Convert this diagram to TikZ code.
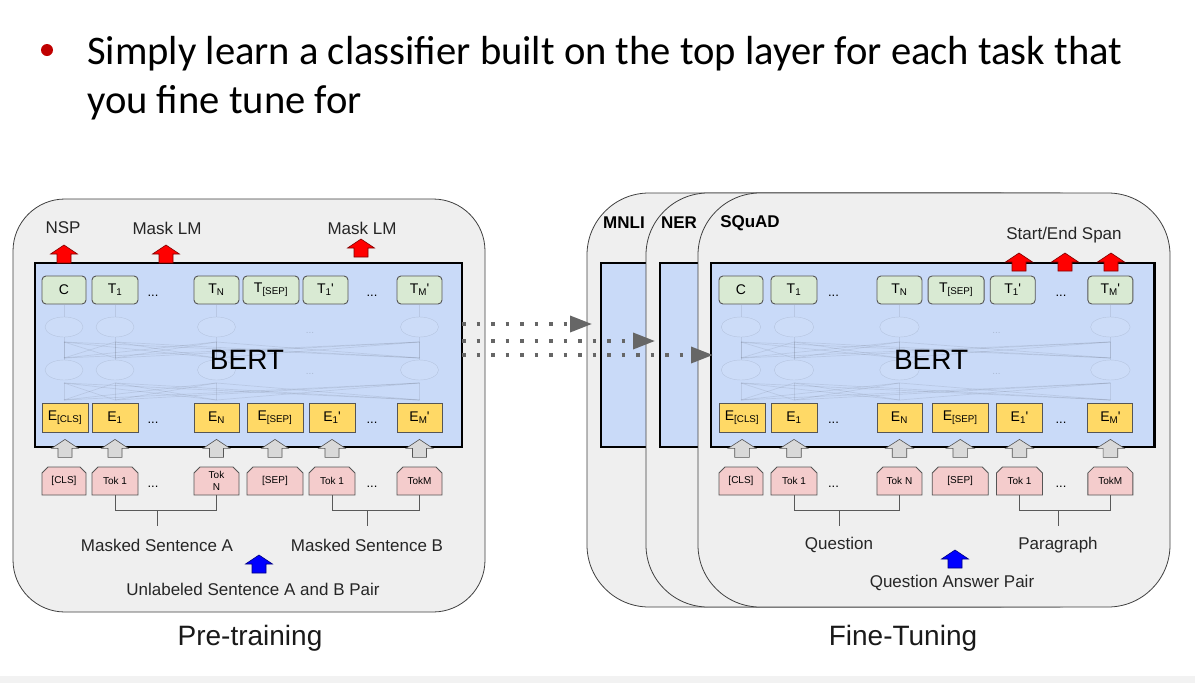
\documentclass[tikz,border=0pt]{standalone}
\usepackage{fontspec}
\setmainfont{Liberation Sans}
\newfontfamily\slidefont{Carlito}
\usetikzlibrary{shapes.misc,arrows.meta}

\definecolor{panelgray}{HTML}{EFEFEF}
\definecolor{bertblue}{HTML}{C9DAF8}
\definecolor{tgreen}{HTML}{D9EAD3}
\definecolor{eyellow}{HTML}{FFD966}
\definecolor{tokpink}{HTML}{F4CCCC}
\definecolor{arrowgray}{HTML}{D9D9D9}
\definecolor{edgegray}{HTML}{555555}
\definecolor{dotgray}{HTML}{666666}
\definecolor{bulletred}{HTML}{C00000}

\tikzset{
  panel/.style={draw=black!75, fill=panelgray, line width=0.8pt},
  bertbox/.style={draw=black, fill=bertblue, line width=2.5pt},
  tbox/.style={draw=edgegray, fill=tgreen, rounded corners=4pt, line width=0.9pt, minimum height=28pt, inner sep=0pt, font=\fontsize{14}{14}\selectfont},
  ebox/.style={draw=edgegray, fill=eyellow, line width=0.8pt, minimum height=29pt, inner sep=0pt, font=\fontsize{14}{14}\selectfont},
  tokbox/.style={chamfered rectangle, chamfered rectangle corners={north west,north east}, chamfered rectangle xsep=3pt, chamfered rectangle ysep=3pt, draw=edgegray, fill=tokpink, line width=0.8pt, minimum height=28pt, inner sep=0pt, align=center, font=\fontsize{10}{12}\selectfont},
  netline/.style={draw=black, draw opacity=0.08, line width=0.7pt},
  netcell/.style={draw=black, draw opacity=0.1, fill=white, fill opacity=0.06},
  netdots/.style={font=\fontsize{10}{10}\selectfont, text=black, text opacity=0.15},
  bertlbl/.style={font=\fontsize{28}{28}\selectfont},
  boxdots/.style={font=\fontsize{13}{13}\selectfont, inner sep=0pt},
  grayarr/.style={draw=edgegray, fill=arrowgray, line width=0.6pt},
  redarr/.style={draw=red!50!black, fill=red, line width=0.6pt},
  bluearr/.style={draw=blue!50!black, fill=blue, line width=0.6pt},
  bracket/.style={draw=black!65, line width=0.9pt},
  lbl/.style={font=\fontsize{17}{17}\selectfont, text=black!85},
  task/.style={font=\bfseries\fontsize{17}{17}\selectfont},
  caption/.style={font=\fontsize{28}{28}\selectfont, text=black!90},
  title/.style={font=\slidefont\fontsize{40.6}{49}\selectfont, inner sep=0pt},
  dotarrow/.style={draw=dotgray, line width=3.5pt, dash pattern=on 3.5pt off 11pt, -{Triangle[length=22pt,width=16pt]}}
}

\newcommand{\tprime}[2]{#1\textsubscript{#2}\kern-0.5pt\textquotesingle}
\newcommand{\blkup}[2]{\draw[#1] #2 ++(-7,0) -- ++(0,-9) -- ++(-6.5,0) -- ++(13.5,-9) -- ++(13.5,9) -- ++(-6.5,0) -- ++(0,9) -- cycle;}
\newcommand{\bertpart}[2]{%
  \path (35,263) coordinate (#1-nw) (462,447) coordinate (#1-se);
  \draw[bertbox] (#1-nw) rectangle (#1-se);
  \foreach \px in {64,115,216.5,419.5} {
    \foreach \qx in {64,115,216.5,419.5}
      \draw[netline] (\px,342) -- (\qx,358) (\px,400) -- (\qx,383);
    \draw[netline] (\px,317) -- (\px,305) (\px,360) -- (\px,337);
    \draw[netcell] (\px,327) ellipse (19pt and 10pt) (\px,370) ellipse (19pt and 10pt);
  }
  \node[netdots] (#1-nd1) at (310,333) {...};
  \node[netdots] (#1-nd2) at (310,374) {...};
  \node[bertlbl] (#1-bert) at (247,360) {BERT};
  \foreach \nm/\px/\bw/\lab in {c/64/44/C, t1/115/46/T\textsubscript{1}, tn/216.5/45/T\textsubscript{N}, tsep/271/56/T\textsubscript{[SEP]}, t1b/325.5/45/\tprime{T}{1}, tm/419.5/45/\tprime{T}{M}}
    \node[tbox, minimum width=\bw] (#1-\nm) at (\px,290) {\lab};
  \foreach \nm/\px/\bw/\lab in {ecls/65/46/E\textsubscript{[CLS]}, e1/115/46/E\textsubscript{1}, en/216.5/45/E\textsubscript{N}, esep/275/56/E\textsubscript{[SEP]}, e1b/332/46/\tprime{E}{1}, em/419.5/45/\tprime{E}{M}}
    \node[ebox, minimum width=\bw] (#1-\nm) at (\px,417.5) {\lab};
  \foreach \nm/\px/\bw/\lab in {tcls/64/44/[CLS], tok1/115/46/Tok 1, tokn/216.5/45/#2, tksep/275/56/[SEP], tok1b/332/46/Tok 1, tokm/419.5/45/TokM}
    \node[tokbox, minimum width=\bw] (#1-\nm) at (\px,481) {\lab};
  \foreach \nm/\py in {t/296, e/423, k/487} {
    \node[boxdots] (#1-\nm d1) at (153,\py) {...};
    \node[boxdots] (#1-\nm d2) at (372,\py) {...};
  }
  \foreach \nm in {ecls,e1,en,esep,e1b,em} {\blkup{grayarr}{(#1-\nm.south) ++(0,25)}}
}

\begin{document}
\begin{tikzpicture}[x=1pt,y=-1pt]
\useasboundingbox (0,0) rectangle (1195,683);
\fill[white] (0,0) rectangle (1195,683);
\fill[black!5] (0,676) rectangle (1195,683);

\fill[bulletred] (47,50) circle (6pt);
\node[title, anchor=base west] (title1) at (87,64) {Simply learn a classifier built on the top layer for each task that};
\node[title, anchor=base west] (title2) at (87,113) {you fine tune for};

% pre-training
\draw[panel, rounded corners=52pt] (13,199) rectangle (485,612);
\bertpart{l}{Tok\\N}
\node[lbl] (nsp) at (63,228) {NSP};
\node[lbl] (mlm1) at (167,228) {Mask LM};
\node[lbl] (mlm2) at (362,228) {Mask LM};
\blkup{redarr}{(nsp.center) ++(1,35)}
\blkup{redarr}{(mlm1.center) ++(-1,35)}
\blkup{redarr}{(mlm2.center) ++(-1,29)}
\draw[bracket] (l-tok1.south) -- ++(0,15) -| (l-tokn.south);
\draw[bracket] (l-tok1b.south) -- ++(0,15) -| (l-tokm.south);
\node[lbl] (sena) at (157,545) {Masked Sentence A};
\node[lbl] (senb) at (367,545) {Masked Sentence B};
\draw[bracket] (sena.north |- l-tok1.south) ++(0,15) -- ++(0,16);
\draw[bracket] (senb.north |- l-tok1.south) ++(0,15) -- ++(0,16);
\node[lbl] (pair) at (253,589) {Unlabeled Sentence A and B Pair};
\blkup{bluearr}{(pair.center) ++(6,-16)}
\node[caption] (pre) at (250,638) {Pre-training};

% fine-tuning
\draw[panel, rounded corners=62pt] (587,193) rectangle (1059,607);
\draw[bertbox] (601,263) rectangle (1045,447);
\node[task] (mnli) at (624,223) {MNLI};
\draw[panel, rounded corners=62pt] (646,193) rectangle (1118,607);
\draw[bertbox] (660,263) rectangle (1104,447);
\node[task] (ner) at (679,223) {NER};
\draw[panel, rounded corners=62pt] (698,193) rectangle (1170,607);
\node[task] (squad) at (750,223) {SQuAD};
\begin{scope}[xshift=674.5pt, xscale=1.039]
\bertpart{r}{Tok N}
\end{scope}
\node[lbl] (span) at (1064,235) {Start/End Span};
\blkup{redarr}{(span.center) ++(-45,36)}
\blkup{redarr}{(span.center) ++(1,36)}
\blkup{redarr}{(span.center) ++(47,36)}
\draw[bracket] (r-tok1.south) -- ++(0,15) -| (r-tokn.south);
\draw[bracket] (r-tok1b.south) -- ++(0,15) -| (r-tokm.south);
\node[lbl] (quest) at (839,545) {Question};
\node[lbl] (para) at (1058,545) {Paragraph};
\draw[bracket] (quest.north |- r-tok1.south) ++(0,15) -- ++(0,16);
\draw[bracket] (para.north |- r-tok1.south) ++(0,15) -- ++(0,16);
\node[lbl] (qapair) at (952,583) {Question Answer Pair};
\blkup{bluearr}{(qapair.center) ++(3,-15)}
\node[caption] (fine) at (903,638) {Fine-Tuning};

\coordinate (mnli-in) at (592,324);
\coordinate (ner-in) at (655,341);
\coordinate (squad-in) at (713,355);
\draw[dotarrow] (l-se |- mnli-in) -- (mnli-in);
\draw[dotarrow] (l-se |- ner-in) -- (ner-in);
\draw[dotarrow] (l-se |- squad-in) -- (squad-in);
\end{tikzpicture}
\end{document}
